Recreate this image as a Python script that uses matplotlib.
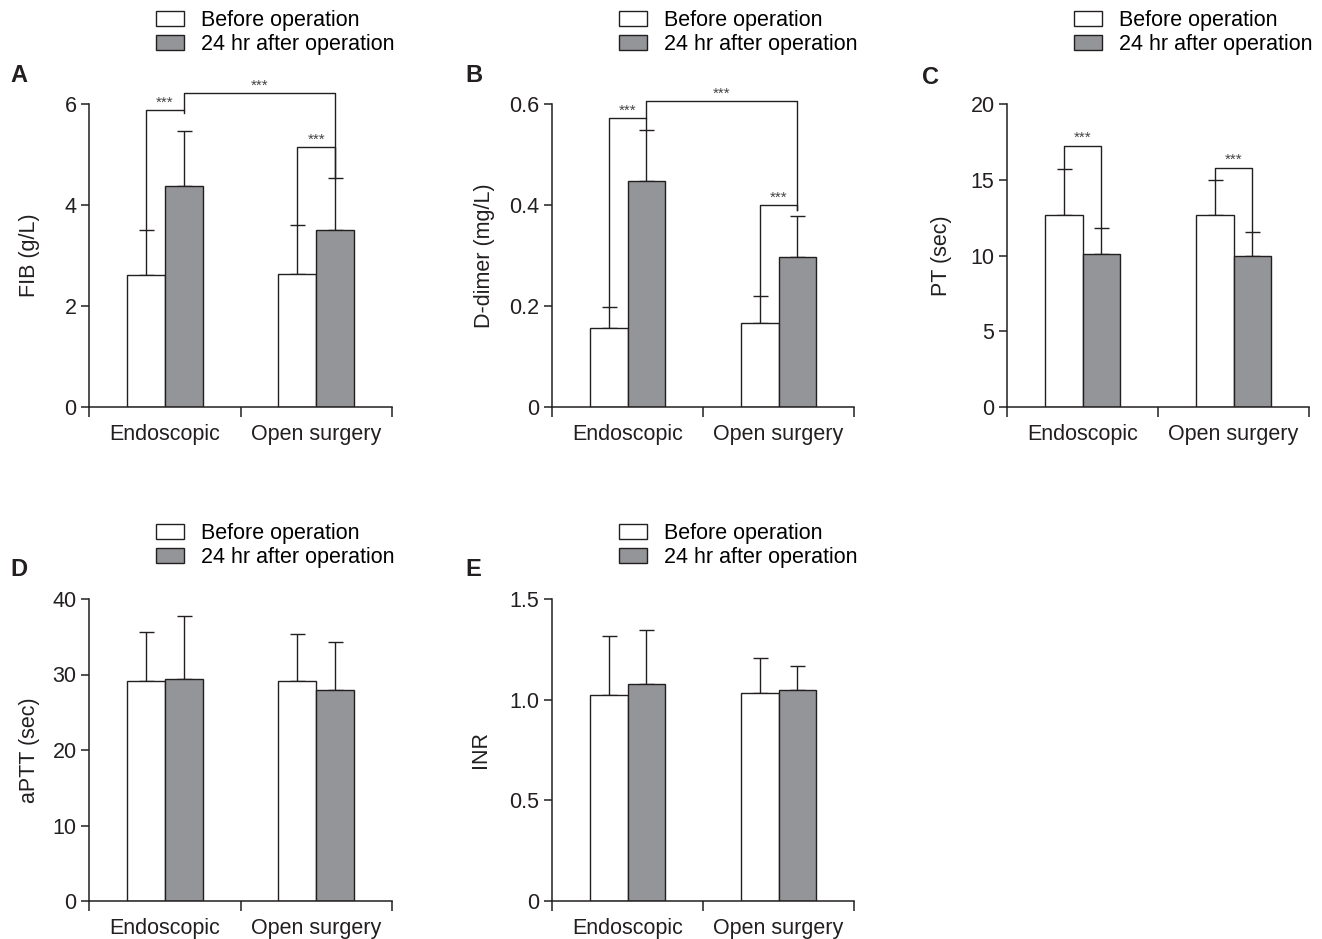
import matplotlib
matplotlib.use("Agg")
import matplotlib.pyplot as plt
from matplotlib.patches import Patch

plt.rcParams["font.family"] = ["Liberation Sans", "DejaVu Sans"]

INK = "#231f20"
GREY = "#939598"
FS = 15.5

groups = ["Endoscopic", "Open surgery"]
series = ["Before operation", "24 hr after operation"]

# mean and SD per group
fib_before, fib_before_sd = [2.62, 2.63], [0.88, 0.97]
fib_after, fib_after_sd = [4.38, 3.51], [1.09, 1.02]

dd_before, dd_before_sd = [0.156, 0.166], [0.043, 0.053]
dd_after, dd_after_sd = [0.447, 0.297], [0.102, 0.081]

pt_before, pt_before_sd = [12.7, 12.7], [3.0, 2.3]
pt_after, pt_after_sd = [10.1, 10.0], [1.7, 1.55]

aptt_before, aptt_before_sd = [29.1, 29.1], [6.5, 6.2]
aptt_after, aptt_after_sd = [29.4, 28.0], [8.4, 6.3]

inr_before, inr_before_sd = [1.023, 1.033], [0.295, 0.176]
inr_after, inr_after_sd = [1.076, 1.047], [0.272, 0.122]

# significance brackets: (bar a, bar b, bracket level, foot a, foot b)
# bars are 0/1 = endoscopic before/after, 2/3 = open before/after
# foot None -> the leg runs down to the top of the error bar
sig_fib = [(0, 1, 5.88, None, 5.82), (1, 3, 6.21, 5.88, None), (2, 3, 5.15, None, None)]
sig_dd = [(0, 1, 0.572, None, None), (1, 3, 0.606, 0.572, 0.39), (2, 3, 0.40, None, 0.39)]
sig_pt = [(0, 1, 17.25, None, None), (2, 3, 15.8, None, None)]

W, H = 1322, 939
fig = plt.figure(figsize=(W / 100, H / 100), dpi=100)


def px_axes(left, right, top, bottom):
    return [left / W, 1 - bottom / H, (right - left) / W, (bottom - top) / H]


def panel(rect, letter, letter_xy, legend_xy, ylabel_dx, before, bsd, after, asd,
          ylim, yticks, yticklabels, ylabel, brackets=()):
    ax = fig.add_axes(px_axes(*rect))
    width = 0.25
    xs_b = [0.375, 1.375]
    xs_a = [0.625, 1.625]
    ax.bar(xs_b, before, width, color="white", edgecolor=INK, linewidth=1.0, zorder=2)
    ax.bar(xs_a, after, width, color=GREY, edgecolor=INK, linewidth=1.0, zorder=2)
    for xs, m, s in ((xs_b, before, bsd), (xs_a, after, asd)):
        ax.errorbar(xs, m, yerr=[[0] * len(s), s], fmt="none", ecolor=INK,
                    elinewidth=1.0, capsize=5.4, capthick=1.0, zorder=1)

    xs_all = [xs_b[0], xs_a[0], xs_b[1], xs_a[1]]
    tops = [before[0] + bsd[0], after[0] + asd[0], before[1] + bsd[1], after[1] + asd[1]]
    for a, b, lvl, fa, fb in brackets:
        ya = tops[a] if fa is None else fa
        yb = tops[b] if fb is None else fb
        ax.plot([xs_all[a], xs_all[a], xs_all[b], xs_all[b]], [ya, lvl, lvl, yb],
                color=INK, linewidth=1.0, clip_on=False, zorder=3)
        ax.annotate("***", ((xs_all[a] + xs_all[b]) / 2, lvl), xytext=(0, 5.5),
                    textcoords="offset points", ha="center", va="center",
                    fontsize=11, color="#444444", annotation_clip=False)

    ax.set_xlim(0, 2)
    ax.set_ylim(*ylim)
    ax.set_yticks(yticks)
    ax.set_yticklabels(yticklabels)
    ax.set_xticks([0, 1, 2])
    ax.set_xticklabels([])
    ax.set_xticks([0.5, 1.5], minor=True)
    ax.set_xticklabels(groups, minor=True)
    ax.tick_params(axis="x", which="minor", length=0, pad=12, labelsize=FS, colors=INK)
    ax.tick_params(axis="x", which="major", length=7, width=1.1, color=INK)
    ax.tick_params(axis="y", length=6, width=1.1, pad=3, labelsize=FS, colors=INK)
    ax.set_ylabel(ylabel, fontsize=FS, color=INK)
    ax.yaxis.set_label_coords(-ylabel_dx / (rect[1] - rect[0]), 0.5)
    for side in ("top", "right"):
        ax.spines[side].set_visible(False)
    for side in ("left", "bottom"):
        ax.spines[side].set_linewidth(1.1)
        ax.spines[side].set_color(INK)

    fig.text(letter_xy[0] / W, 1 - letter_xy[1] / H, letter, fontsize=17,
             fontweight="bold", color=INK, ha="left", va="center")

    handles = [Patch(facecolor="white", edgecolor=INK, linewidth=1.0),
               Patch(facecolor=GREY, edgecolor=INK, linewidth=1.0)]
    ax.legend(handles, series, loc="upper left",
              bbox_to_anchor=(legend_xy[0] / W, 1 - legend_xy[1] / H),
              bbox_transform=fig.transFigure, frameon=False, fontsize=FS,
              handlelength=1.3, handleheight=0.7, handletextpad=0.8,
              labelspacing=0.12, borderpad=0, borderaxespad=0)
    return ax


panel((89, 392, 104, 407), "A", (10, 75), (156, 10), 49,
      fib_before, fib_before_sd, fib_after, fib_after_sd,
      (0, 6), [0, 2, 4, 6], ["0", "2", "4", "6"], "FIB (g/L)", sig_fib)
panel((552, 854, 104, 407), "B", (465, 75), (619, 10), 57,
      dd_before, dd_before_sd, dd_after, dd_after_sd,
      (0, 0.6), [0, 0.2, 0.4, 0.6], ["0", "0.2", "0.4", "0.6"], "D-dimer (mg/L)", sig_dd)
panel((1007, 1309, 104, 407), "C", (922, 77), (1074, 10), 55,
      pt_before, pt_before_sd, pt_after, pt_after_sd,
      (0, 20), [0, 5, 10, 15, 20], ["0", "5", "10", "15", "20"], "PT (sec)", sig_pt)
panel((89, 392, 599, 901), "D", (10, 570), (156, 523), 49,
      aptt_before, aptt_before_sd, aptt_after, aptt_after_sd,
      (0, 40), [0, 10, 20, 30, 40], ["0", "10", "20", "30", "40"], "aPTT (sec)")
panel((552, 854, 599, 901), "E", (465, 570), (619, 523), 61,
      inr_before, inr_before_sd, inr_after, inr_after_sd,
      (0, 1.5), [0, 0.5, 1.0, 1.5], ["0", "0.5", "1.0", "1.5"], "INR")

fig.savefig("out.png", dpi=100)
